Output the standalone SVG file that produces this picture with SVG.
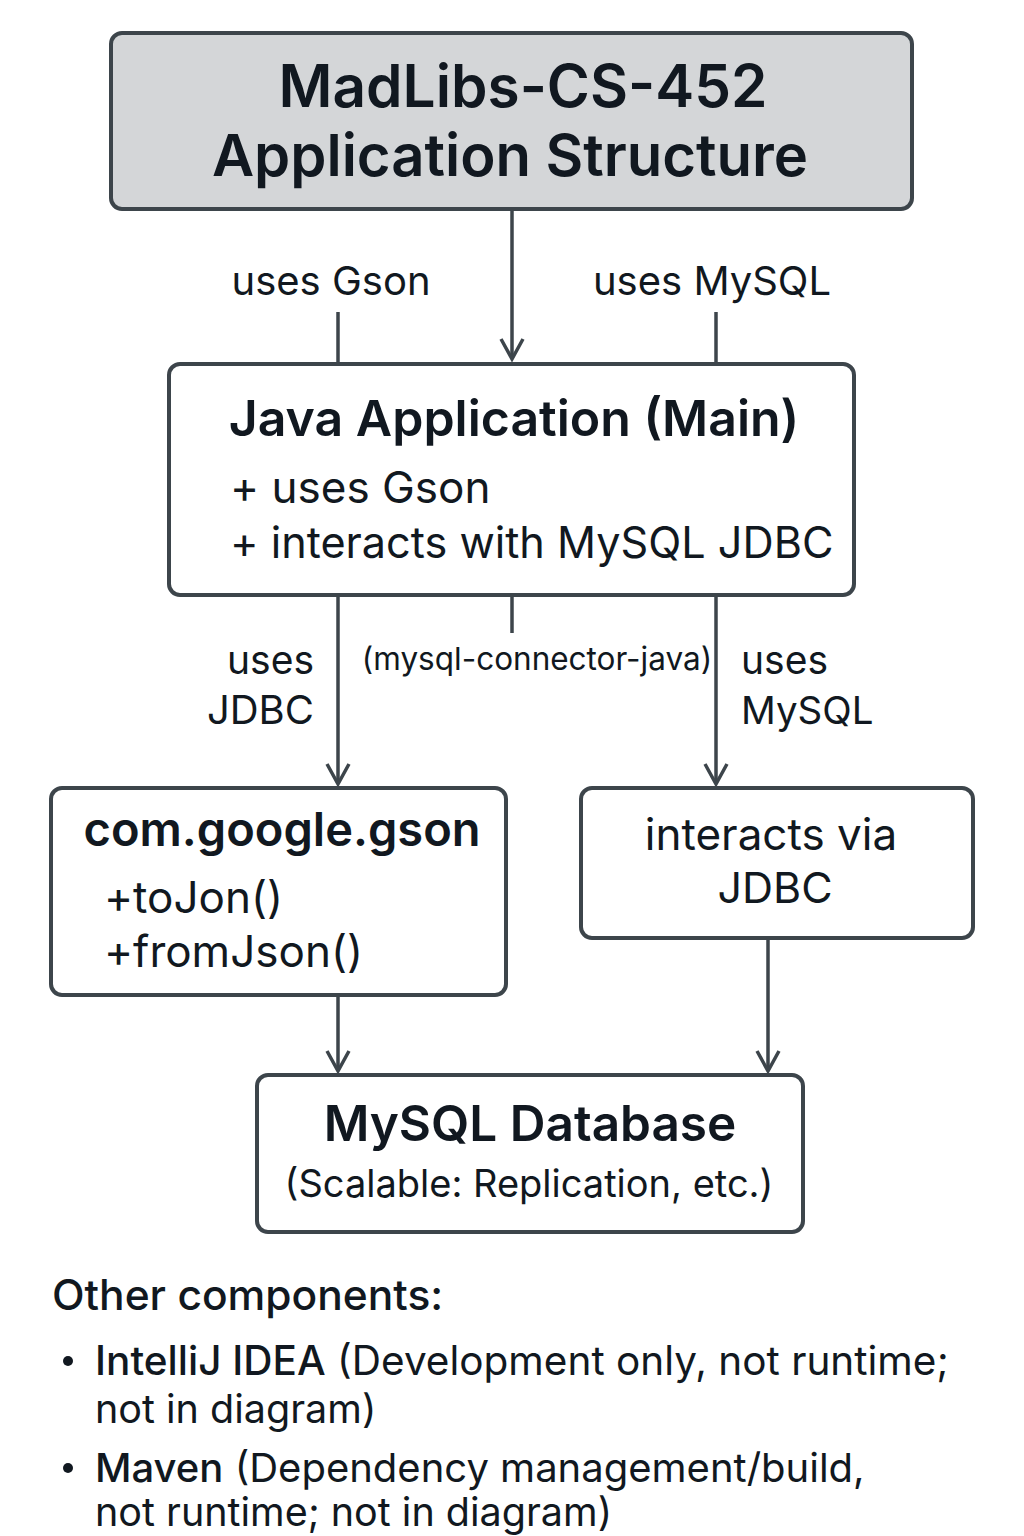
<svg xmlns="http://www.w3.org/2000/svg" width="1024" height="1536" viewBox="0 0 1024 1536">
<defs>
<style>
.box{fill:#ffffff;stroke:#3d454b;stroke-width:4}
.title{fill:#d4d6d8}
.t{font-family:Inter,"Noto Sans",sans-serif;fill:#111820}
.b{font-weight:600}
.m{font-weight:500}
.ln{stroke:#3d454b;stroke-width:3.5;fill:none}
</style>
<marker id="arr" markerUnits="userSpaceOnUse" markerWidth="30" markerHeight="30" viewBox="0 0 30 30" refX="27" refY="15" orient="auto">
<path d="M7,4 L27,15 L7,26" fill="none" stroke="#3d454b" stroke-width="3.5"/>
</marker>
</defs>
<rect width="1024" height="1536" fill="#ffffff"/>

<g id="connectors">
<line class="ln" x1="512" y1="210" x2="512" y2="359" marker-end="url(#arr)"/>
<line class="ln" x1="338" y1="312" x2="338" y2="362"/>
<line class="ln" x1="716" y1="312" x2="716" y2="362"/>
<line class="ln" x1="338" y1="597" x2="338" y2="784" marker-end="url(#arr)"/>
<line class="ln" x1="512" y1="597" x2="512" y2="633"/>
<line class="ln" x1="716" y1="597" x2="716" y2="784" marker-end="url(#arr)"/>
<line class="ln" x1="338" y1="997" x2="338" y2="1071" marker-end="url(#arr)"/>
<line class="ln" x1="768" y1="940" x2="768" y2="1071" marker-end="url(#arr)"/>
<text class="t" x="331" y="295" font-size="40" text-anchor="middle">uses Gson</text>
<text class="t" x="712" y="295" font-size="40" text-anchor="middle">uses MySQL</text>
<text class="t" x="314" y="674" font-size="39" text-anchor="end">uses</text>
<text class="t" x="314" y="724" font-size="40" text-anchor="end">JDBC</text>
<text class="t" x="537" y="670" font-size="31.5" text-anchor="middle">(mysql-connector-java)</text>
<text class="t" x="741" y="674" font-size="39">uses</text>
<text class="t" x="741" y="724" font-size="38.5">MySQL</text>
</g>

<g id="title">
<rect class="box title" x="111" y="33" width="801" height="176" rx="11"/>
<text class="t b" x="523" y="107" font-size="58.5" text-anchor="middle">MadLibs-CS-452</text>
<text class="t b" x="510" y="176" font-size="58" text-anchor="middle">Application Structure</text>
</g>

<g id="java-app">
<rect class="box" x="169" y="364" width="685" height="231" rx="11"/>
<text class="t b" x="514" y="436" font-size="50" text-anchor="middle">Java Application (Main)</text>
<text class="t" x="230" y="503" font-size="44">+ uses Gson</text>
<text class="t" x="230" y="558" font-size="43.2">+ interacts with MySQL JDBC</text>
</g>

<g id="gson">
<rect class="box" x="51" y="788" width="455" height="207" rx="11"/>
<text class="t b" x="282" y="846" font-size="47" text-anchor="middle">com.google.gson</text>
<text class="t" x="104" y="913" font-size="44">+toJon()</text>
<text class="t" x="104" y="967" font-size="44">+fromJson()</text>
</g>

<g id="jdbc">
<rect class="box" x="581" y="788" width="392" height="150" rx="11"/>
<text class="t" x="771" y="850" font-size="44" text-anchor="middle">interacts via</text>
<text class="t" x="775" y="903" font-size="43" text-anchor="middle">JDBC</text>
</g>

<g id="database">
<rect class="box" x="257" y="1075" width="546" height="157" rx="11"/>
<text class="t b" x="530" y="1141" font-size="49.5" text-anchor="middle">MySQL Database</text>
<text class="t" x="529" y="1197" font-size="38" text-anchor="middle">(Scalable: Replication, etc.)</text>
</g>

<g id="other">
<text class="t m" x="52" y="1310" font-size="42.5">Other components:</text>
<circle cx="68" cy="1361" r="5" fill="#111820"/>
<text class="t" x="95" y="1375" font-size="40.5"><tspan class="m">IntelliJ IDEA</tspan> (Development only, not runtime;</text>
<text class="t" x="95" y="1423" font-size="39.5">not in diagram)</text>
<circle cx="68" cy="1468" r="5" fill="#111820"/>
<text class="t" x="95" y="1482" font-size="40"><tspan class="m">Maven</tspan> (Dependency management/build,</text>
<text class="t" x="95" y="1526" font-size="39.5">not runtime; not in diagram)</text>
</g>
</svg>
